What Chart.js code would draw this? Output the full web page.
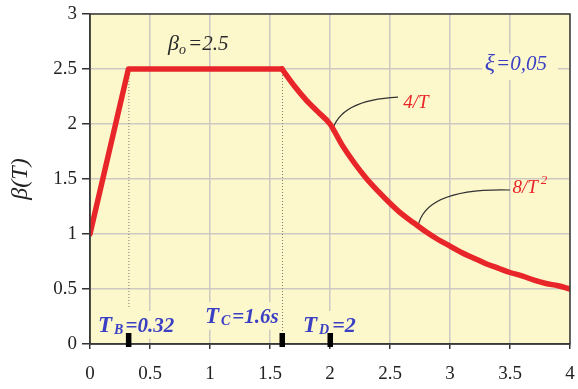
<!DOCTYPE html>
<html>
<head>
<meta charset="utf-8">
<script src="https://cdn.jsdelivr.net/npm/chart.js@4/dist/chart.umd.min.js"></script>
<style>
  html, body { margin: 0; padding: 0; background: #ffffff; }
  #wrap { width: 578px; height: 389px; position: relative; }
</style>
</head>
<body>
<div id="wrap"><canvas id="c" width="578" height="389"></canvas></div>
<script>
// Elastic response spectrum beta(T)
const periodT = [0, 0.32, 1.6, 1.7, 1.8, 1.9, 2.0, 2.1, 2.2, 2.3, 2.4, 2.5, 2.6, 2.7, 2.8, 2.9, 3.0,
                 3.1, 3.2, 3.3, 3.4, 3.5, 3.6, 3.7, 3.8, 3.9, 4.0];
const betaT   = [1.0, 2.5, 2.5, 2.35, 2.22, 2.11, 2.0, 1.81, 1.65, 1.51, 1.39, 1.28, 1.18, 1.10, 1.02, 0.95, 0.89,
                 0.83, 0.78, 0.73, 0.69, 0.65, 0.62, 0.58, 0.55, 0.53, 0.5];
const cornerPeriods = [0.32, 1.6, 2.0];   // T_B, T_C, T_D
const xTicks = [0, 0.5, 1, 1.5, 2, 2.5, 3, 3.5, 4];
const yTicks = [0, 0.5, 1, 1.5, 2, 2.5, 3];

const serif = '"Liberation Serif", "DejaVu Serif", serif';
const blue = '#3a3fc4';
const red = '#e8262a';
const plotBg = '#fcf8cc';
const gridColor = '#cdc9c0';

const points = periodT.map((t, i) => ({ x: t, y: betaT[i] }));
const iTC = periodT.indexOf(1.6);

// draw a run of text pieces: [text, size, dy, style, gap]
function drawRun(ctx, x, y, pieces, color) {
  ctx.save();
  ctx.fillStyle = color;
  ctx.textBaseline = 'alphabetic';
  ctx.textAlign = 'left';
  let cx = x;
  for (const p of pieces) {
    ctx.font = (p[3] || 'italic') + ' ' + p[1] + 'px ' + serif;
    ctx.fillText(p[0], cx, y + p[2]);
    cx += ctx.measureText(p[0]).width + (p[4] || 0);
  }
  ctx.restore();
  return cx - x;
}

const decor = {
  id: 'decor',
  beforeDraw(chart) {
    const { ctx, chartArea: a } = chart;
    ctx.save();
    ctx.fillStyle = plotBg;
    ctx.fillRect(a.left, a.top, a.right - a.left, a.bottom - a.top);
    ctx.restore();
  },
  beforeDatasetsDraw(chart) {
    const { ctx, scales: { x, y } } = chart;
    const px = v => x.getPixelForValue(v), py = v => y.getPixelForValue(v);

    // label patches over the grid
    ctx.save();
    ctx.fillStyle = plotBg;
    ctx.fillRect(px(0.06), py(0.3), px(0.73) - px(0.06), py(0.05) - py(0.3));
    ctx.fillRect(px(0.93), py(0.38), px(1.6) - px(0.93) - 2, py(0.13) - py(0.38));
    ctx.fillRect(px(1.76), py(0.3), px(2.3) - px(1.76), py(0.05) - py(0.3));
    ctx.fillRect(px(3.27), py(2.64), px(3.9) - px(3.27), py(2.40) - py(2.64));
    ctx.restore();

    // dotted guides at T_B and T_C
    ctx.save();
    ctx.strokeStyle = '#7c7c70';
    ctx.lineWidth = 1;
    ctx.setLineDash([1, 2]);
    ctx.beginPath();
    ctx.moveTo(px(0.32) + 0.5, py(2.5)); ctx.lineTo(px(0.32) + 0.5, py(0.33));
    ctx.moveTo(px(1.6) + 0.5, py(2.5)); ctx.lineTo(px(1.6) + 0.5, py(0));
    ctx.stroke();
    ctx.restore();

    // leader curves
    ctx.save();
    ctx.strokeStyle = '#333';
    ctx.lineWidth = 1.2;
    ctx.beginPath();
    ctx.moveTo(px(2.017), py(1.93));
    ctx.quadraticCurveTo(px(2.08), py(2.22), px(2.567), py(2.245));
    ctx.moveTo(px(2.733), py(1.064));
    ctx.quadraticCurveTo(px(2.79), py(1.42), px(3.5), py(1.4));
    ctx.stroke();
    ctx.restore();
  },
  afterDraw(chart) {
    const { ctx, chartArea: a, scales: { x, y } } = chart;
    const px = v => x.getPixelForValue(v), py = v => y.getPixelForValue(v);

    // frame
    ctx.save();
    ctx.strokeStyle = '#3a3a3a';
    ctx.lineWidth = 1.5;
    ctx.strokeRect(a.left, a.top, a.right - a.left, a.bottom - a.top);
    ctx.restore();

    // corner period markers
    ctx.save();
    ctx.fillStyle = '#000';
    for (const t of cornerPeriods) {
      ctx.fillRect(px(t) - 2.5, a.bottom - 11, 5.5, 14);
    }
    ctx.restore();

    // texts
    drawRun(ctx, px(0.65), py(2.67), [['β', 22, 0], ['o', 14, 4, 'italic', 2], ['=2.5', 21, 0]], '#2a2a2a');
    drawRun(ctx, px(3.29), py(2.49), [['ξ', 24, 0, 'italic', 1], ['=0,05', 21, 0]], blue);
    drawRun(ctx, px(2.61), py(2.145), [['4/T', 19, 0]], red);
    drawRun(ctx, px(3.52), py(1.37), [['8/T', 19, 0, 'italic', 3], ['2', 13, -9]], red);
    drawRun(ctx, px(0.067), py(0.109), [['T', 23, 0, 'italic bold', 2], ['B', 14, 2, 'italic bold', 2], ['=0.32', 21, 0, 'italic bold']], blue);
    drawRun(ctx, px(0.958), py(0.19), [['T', 23, 0, 'italic bold', 2], ['C', 14, 2, 'italic bold', 2], ['=1.6s', 21, 0, 'italic bold']], blue);
    drawRun(ctx, px(1.775), py(0.109), [['T', 23, 0, 'italic bold', 2], ['D', 14, 2, 'italic bold', 3], ['=2', 22, 0, 'italic bold']], blue);
  }
};

const lineStyle = {
  borderColor: red,
  borderWidth: 5.5,
  pointRadius: 0,
  fill: false,
  borderJoinStyle: 'round',
  borderCapStyle: 'round'
};

new Chart(document.getElementById('c'), {
  type: 'line',
  data: {
    datasets: [
      // rising branch and plateau
      Object.assign({ data: points.slice(0, iTC + 1), tension: 0 }, lineStyle),
      // 4/T and 8/T^2 decay
      Object.assign({ data: points.slice(iTC), cubicInterpolationMode: 'monotone' }, lineStyle)
    ]
  },
  options: {
    responsive: false,
    animation: false,
    layout: { padding: { top: 14, right: 8, left: 6, bottom: 0 } },
    plugins: { legend: { display: false }, tooltip: { enabled: false } },
    scales: {
      x: {
        type: 'linear', min: 0, max: 4,
        afterBuildTicks: s => { s.ticks = xTicks.map(v => ({ value: v })); },
        afterFit: s => { s.height = 45; s.paddingLeft = 0; s.paddingRight = 0; },
        ticks: { color: '#222', font: { family: serif, size: 19 }, padding: 14, maxRotation: 0,
                 callback: v => String(v) },
        grid: { color: gridColor, lineWidth: 1.5, tickColor: '#333', tickLength: 5, tickWidth: 1.5 },
        border: { color: '#3a3a3a', width: 1.5 }
      },
      y: {
        min: 0, max: 3,
        afterBuildTicks: s => { s.ticks = yTicks.map(v => ({ value: v })); },
        afterFit: s => { s.width = 84; s.paddingTop = 0; s.paddingBottom = 0; },
        ticks: { color: '#222', font: { family: serif, size: 19 }, padding: 5, callback: v => String(v) },
        grid: { color: gridColor, lineWidth: 1.5, tickColor: '#333', tickLength: 8, tickWidth: 1.5 },
        border: { color: '#3a3a3a', width: 1.5 },
        title: { display: true, text: 'β(T)', color: '#222', font: { family: serif, size: 24, style: 'italic' }, padding: 0 }
      }
    }
  },
  plugins: [decor]
});
</script>
</body>
</html>
